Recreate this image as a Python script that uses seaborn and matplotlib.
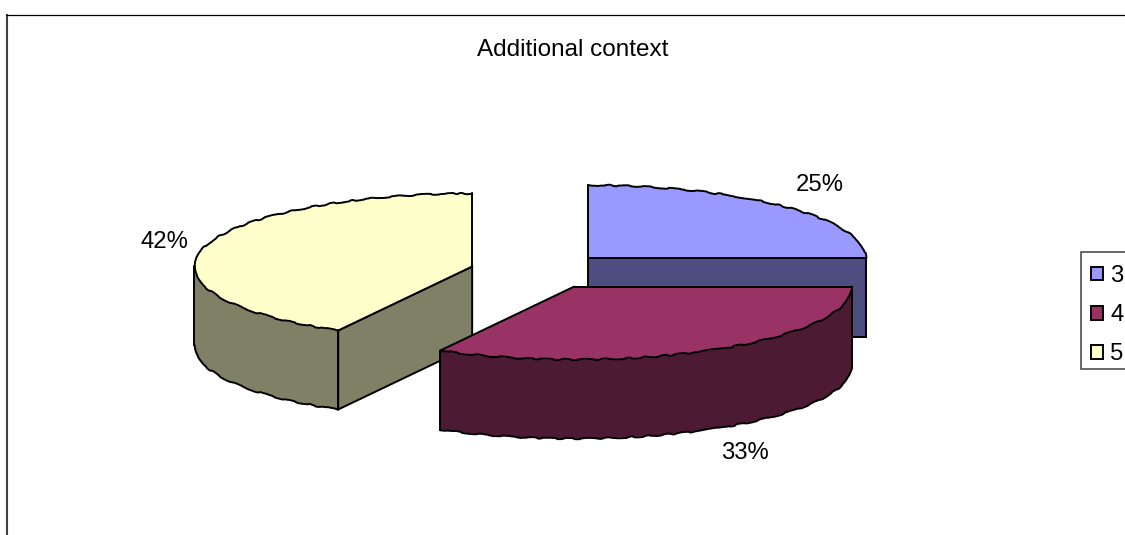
import numpy as np
import matplotlib
matplotlib.use("Agg")
import matplotlib.pyplot as plt
from matplotlib.patches import Polygon, Patch, Rectangle
import seaborn as sns

# Chart content
title = "Additional context"
categories = ["3", "4", "5"]
shares = [25, 33, 42]
slice_colors = ["#9999FF", "#993366", "#FFFFCC"]
label_positions = [(820, 185), (745, 453), (164, 242)]

# Pie geometry, in canvas pixels
CENTER = (539.0, 271.0)
RX, RY = 278.0, 73.0
DEPTH = 79.0
EXPLODE = 69.0
EDGE = "black"
LW = 1.4
FONT = 17.2

sns.set_theme(style="white", font="Liberation Sans")
palette = sns.color_palette(slice_colors)


def shade(color):
    return tuple(c * 0.5 for c in color)


def rim(center, degrees):
    rad = np.radians(degrees)
    return np.column_stack([center[0] + RX * np.sin(rad), center[1] - RY * np.cos(rad)])


def curve(ax, points):
    # Curved rims get a slight hand-drawn wobble; straight edges stay clean
    line, = ax.plot(points[:, 0], points[:, 1], color=EDGE, lw=LW, solid_capstyle="round")
    line.set_sketch_params(scale=0.7, length=55, randomness=12)


def straight(ax, a, b):
    ax.plot([a[0], b[0]], [a[1], b[1]], color=EDGE, lw=LW, solid_capstyle="round")


def draw_slice(ax, start, end, color):
    mid = np.radians((start + end) / 2)
    c = np.array([CENTER[0] + EXPLODE * np.sin(mid),
                  CENTER[1] - EXPLODE * RY / RX * np.cos(mid)])
    dark = shade(color)
    down = np.array([0, DEPTH])

    # Outer wall: only the part of the rim facing the viewer
    lo, hi = max(start, 90), min(end, 270)
    if hi > lo:
        arc = rim(c, np.linspace(lo, hi, 160))
        wall = np.vstack([arc, arc[::-1] + down])
        ax.add_patch(Polygon(wall, closed=True, facecolor=dark, edgecolor="none"))
        curve(ax, arc + down)
        straight(ax, arc[0], arc[0] + down)
        straight(ax, arc[-1], arc[-1] + down)

    # Cut faces that turn toward the viewer
    for angle, visible in ((start, 180 < start < 360), (end, 0 < end < 180)):
        if visible:
            edge = rim(c, [angle])[0]
            face = [c, edge, edge + down, c + down]
            ax.add_patch(Polygon(face, closed=True, facecolor=dark,
                                 edgecolor=EDGE, linewidth=LW))

    # Top surface
    arc = rim(c, np.linspace(start, end, 260))
    ax.add_patch(Polygon(np.vstack([[c], arc]), closed=True, facecolor=color, edgecolor="none"))
    curve(ax, arc)
    straight(ax, c, arc[0])
    straight(ax, c, arc[-1])


fig = plt.figure(figsize=(11.25, 5.35), dpi=100, facecolor="white")
ax = fig.add_axes([0, 0, 1, 1])
ax.set_xlim(0, 1125)
ax.set_ylim(535, 0)
ax.axis("off")

# Chart frame, open at the right and bottom where the canvas cuts it off
ax.plot([7, 7], [535, 14], color="#404040", lw=1.5, solid_capstyle="butt")
ax.plot([6, 1125], [14.5, 14.5], color="black", lw=0.9, solid_capstyle="butt")

ax.text(573, 50, title, ha="center", va="center", fontsize=17.5, color="black")

# Slices run clockwise from twelve o'clock; the back slice goes first
edges = np.concatenate([[0], np.cumsum(shares)]) / sum(shares) * 360
for i in (0, 2, 1):
    draw_slice(ax, edges[i], edges[i + 1], palette[i])

for share, (x, y) in zip(shares, label_positions):
    ax.text(x, y, f"{share}%", ha="center", va="center", fontsize=FONT, color="black")

# Legend box runs past the right edge of the canvas
ax.add_patch(Rectangle((1080.5, 252), 60, 116.5, facecolor="white", edgecolor="#404040", linewidth=1.1))
handles = [Patch(facecolor=c, edgecolor="black", linewidth=1.4) for c in palette]
legend = ax.legend(
    handles, categories, loc="upper left", bbox_to_anchor=(1081, 255),
    bbox_transform=ax.transData, borderaxespad=0, fontsize=FONT, frameon=False,
    borderpad=0.42, labelspacing=0.72, handlelength=0.5, handleheight=0.5,
    handletextpad=0.3, labelcolor="black",
)

fig.savefig("out.png", dpi=100, facecolor="white")
